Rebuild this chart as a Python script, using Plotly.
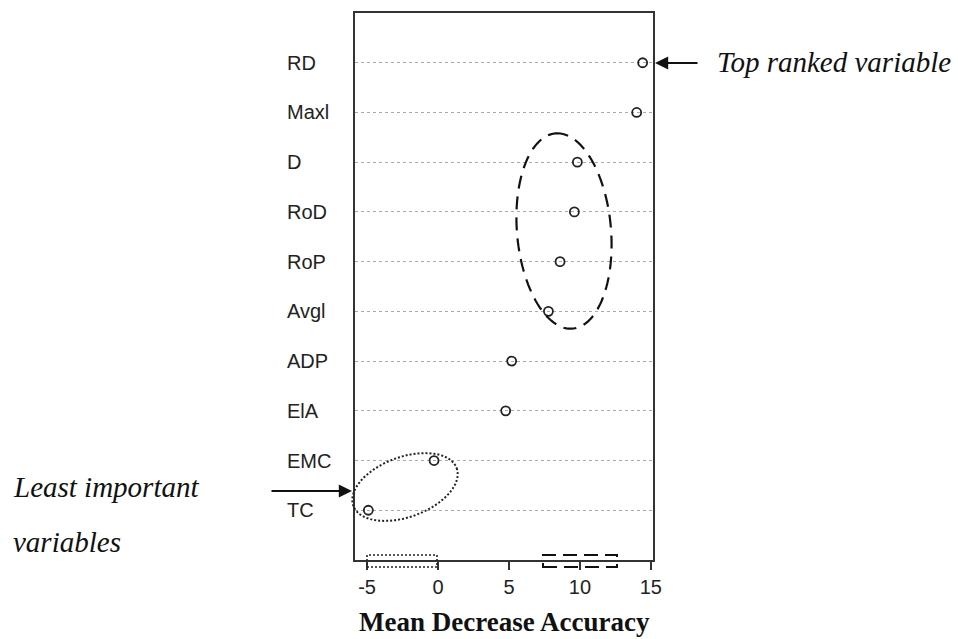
import numpy as np
import plotly.graph_objects as go

# Variable importance (random forest), top-ranked first
variables = ["RD", "Maxl", "D", "RoD", "RoP", "Avgl", "ADP", "ElA", "EMC", "TC"]
mean_decrease_accuracy = [14.42, 14.0, 9.82, 9.61, 8.6, 7.78, 5.19, 4.77, -0.28, -4.91]
x_ticks = [-5, 0, 5, 10, 15]

# row positions: top variable on the highest row
rows = [len(variables) - i for i in range(len(variables))]

W, H = 958, 639
L, R, T, B = 355, 653, 13, 560  # plot box in pixels


def px_x(p):
    return (p - L) / (R - L)


def px_y(p):
    return (B - p) / (B - T)


def ellipse_path(cx, cy, a, b, ang_deg, n=120):
    """Ellipse in pixel space (y down), major semi-axis a along angle ang (deg, ccw)."""
    th = np.radians(ang_deg)
    u = np.array([np.cos(th), -np.sin(th)])
    v = np.array([np.sin(th), np.cos(th)])
    t = np.linspace(0, 2 * np.pi, n)
    pts = [np.array([cx, cy]) + a * np.cos(s) * u + b * np.sin(s) * v for s in t]
    d = "M " + " L ".join(f"{px_x(p[0]):.5f},{px_y(p[1]):.5f}" for p in pts) + " Z"
    return d


fig = go.Figure()
fig.add_trace(go.Scatter(
    x=mean_decrease_accuracy, y=rows, mode="markers",
    marker=dict(symbol="circle-open", size=9, color="#222", line=dict(width=1.8, color="#222")),
    showlegend=False, hoverinfo="x+text", text=variables,
))

shapes = [
    # dashed ellipse around the mid-ranked group
    dict(type="path", xref="paper", yref="paper",
         path=ellipse_path(564, 231, 98, 47, 95),
         line=dict(color="#111", width=2.2, dash="13px,8px")),
    # dotted ellipse around the least important pair
    dict(type="path", xref="paper", yref="paper",
         path=ellipse_path(405, 487, 55, 30, 20),
         line=dict(color="#222", width=2, dash="2px,2px")),
    # key boxes along the bottom axis
    dict(type="rect", xref="paper", yref="paper",
         x0=px_x(367), x1=px_x(437), y0=px_y(567), y1=px_y(555),
         line=dict(color="#222", width=1.6, dash="2px,2px")),
    dict(type="rect", xref="paper", yref="paper",
         x0=px_x(543), x1=px_x(617), y0=px_y(567), y1=px_y(555),
         line=dict(color="#111", width=2, dash="14px,7px")),
]

annotations = []
for name, r in zip(variables, rows):
    annotations.append(dict(
        x=px_x(285), xref="paper", y=r, yref="y", text=name, showarrow=False,
        xanchor="left", yanchor="middle",
        font=dict(family="Liberation Sans, Arial, sans-serif", size=20, color="#222"),
    ))

serif_it = dict(family="Liberation Serif, Times New Roman, serif", size=29, color="#111")
annotations += [
    dict(x=px_x(715), xref="paper", y=px_y(62), yref="paper", text="<i>Top ranked variable</i>",
         showarrow=False, xanchor="left", yanchor="middle", font=serif_it),
    dict(x=px_x(11), xref="paper", y=px_y(487), yref="paper", text="<i>Least important</i>",
         showarrow=False, xanchor="left", yanchor="middle", font=serif_it),
    dict(x=px_x(11), xref="paper", y=px_y(542), yref="paper", text="<i>variables</i>",
         showarrow=False, xanchor="left", yanchor="middle", font=serif_it),
    # arrows (tail offsets in pixels)
    dict(x=px_x(655), y=px_y(63), xref="paper", yref="paper",
         ax=44, ay=0, axref="pixel", ayref="pixel",
         showarrow=True, arrowhead=2, arrowsize=1.2, arrowwidth=2.2, arrowcolor="#111", text=""),
    dict(x=px_x(352), y=px_y(491), xref="paper", yref="paper",
         ax=-82, ay=0, axref="pixel", ayref="pixel",
         showarrow=True, arrowhead=2, arrowsize=1.2, arrowwidth=2.2, arrowcolor="#111", text=""),
    dict(x=0.5, xref="paper", y=px_y(622), yref="paper", text="<b>Mean Decrease Accuracy</b>",
         showarrow=False, xanchor="center", yanchor="middle",
         font=dict(family="Liberation Serif, Times New Roman, serif", size=27, color="#111")),
]

fig.update_layout(
    width=W, height=H,
    margin=dict(l=L, r=W - R, t=T, b=H - B, pad=0),
    paper_bgcolor="white", plot_bgcolor="white",
    shapes=shapes, annotations=annotations,
    xaxis=dict(
        range=[-5.85, 15.15], tickvals=x_ticks, ticktext=[str(v) for v in x_ticks],
        showgrid=False, zeroline=False, showline=True, mirror=True,
        linecolor="#333", linewidth=2, ticks="outside", ticklen=8, tickwidth=2, tickcolor="#333",
        tickfont=dict(family="Liberation Sans, Arial, sans-serif", size=20, color="#222"),
    ),
    yaxis=dict(
        range=[0, 11], tickvals=rows, showticklabels=False, ticks="",
        showgrid=True, gridcolor="#aaa", gridwidth=1, griddash="dot",
        zeroline=False, showline=True, mirror=True, linecolor="#333", linewidth=2,
    ),
)

fig.write_html("out.html")
